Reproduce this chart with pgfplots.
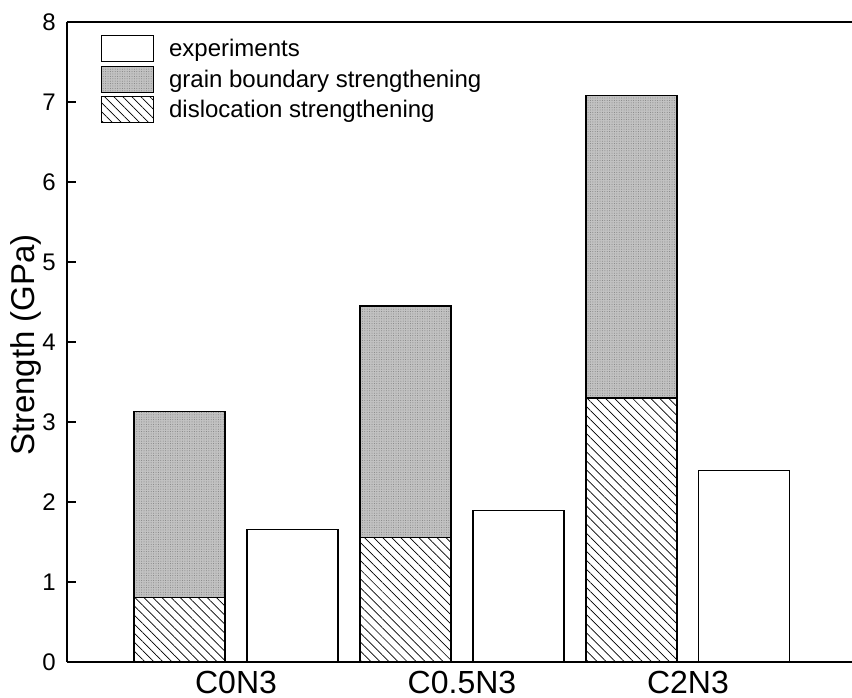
\documentclass[border=0pt]{standalone}
\usepackage{fontspec}
\setmainfont{Liberation Sans}
\usepackage{pgfplots}
\pgfplotsset{compat=1.18}
\usetikzlibrary{patterns,patterns.meta}

\tikzset{
  gbfill/.style={fill=black!24, postaction={pattern color=black!50, pattern={Dots[distance=2.4bp, radius=0.5bp]}}},
  hatchfill/.style={fill=white, postaction={pattern color=black, pattern={Lines[angle=-45, distance=6.4bp, line width=0.7bp]}}},
}

\begin{document}
\begin{tikzpicture}
% model (stacked) bars
\begin{axis}[
  at={(0,0)}, anchor=south west, scale only axis, width=785bp, height=640bp,
  xmin=-0.748, xmax=2.726, ymin=0, ymax=8,
  hide axis, ybar stacked, bar width=91bp,
]
\addplot[draw=black, line width=1.1bp, hatchfill] coordinates {(-0.25,0.81) (0.75,1.56) (1.75,3.30)};
\addplot[draw=black, line width=1.1bp, gbfill] coordinates {(-0.25,2.32) (0.75,2.89) (1.75,3.78)};
\end{axis}
% main axis with experiments
\begin{axis}[
  at={(0,0)}, anchor=south west, scale only axis, width=785bp, height=640bp,
  xmin=-0.748, xmax=2.726, ymin=0, ymax=8,
  axis lines*=left, axis line style={line width=1.6bp, black},
  ybar, bar width=91bp, bar shift=0pt,
  xtick={0,1,2}, xticklabels={C0N3,C0.5N3,C2N3},
  major x tick style={draw=none},
  ytick={0,1,...,8}, tick align=inside, major tick length=9bp,
  major y tick style={line width=1.2bp, black},
  /pgf/number format/assume math mode=true,
  yticklabel style={font=\fontsize{24bp}{28bp}\selectfont, anchor=east, inner sep=0pt, xshift=-11bp},
  xticklabel style={font=\fontsize{32bp}{36bp}\selectfont, anchor=north, inner sep=0pt, yshift=-9bp},
  ylabel={Strength (GPa)},
  every axis y label/.style={at={(axis description cs:0,0.5)}, xshift=-25bp, yshift=-3bp, rotate=90, anchor=south, inner sep=0pt, font=\fontsize{33bp}{37bp}\selectfont},
  legend style={at={(axis description cs:0,1)}, anchor=north west, xshift=34bp, yshift=-13bp,
    draw=none, fill=none, inner sep=0pt, outer sep=0pt, row sep=3.5bp,
    font=\fontsize{24bp}{27bp}\selectfont, nodes={inner sep=0pt},
    /tikz/every odd column/.append style={column sep=15bp}},
  legend cell align=left,
]
\addplot[forget plot, draw=black, fill=white, line width=1.1bp] coordinates {(0.25,1.66) (1.25,1.89) (2.25,2.39)};
\draw[line width=1.6bp] (rel axis cs:0,1) -- (rel axis cs:1,1);
\addlegendimage{legend image code/.code={\draw[fill=white, line width=1.1bp] (0bp,-13bp) rectangle (52bp,13bp);}}
\addlegendentry{experiments}
\addlegendimage{legend image code/.code={\draw[gbfill, line width=1.1bp] (0bp,-13bp) rectangle (52bp,13bp);}}
\addlegendentry{grain boundary strengthening}
\addlegendimage{legend image code/.code={\draw[hatchfill, line width=1.1bp] (0bp,-13bp) rectangle (52bp,13bp);}}
\addlegendentry{dislocation strengthening}
\end{axis}
\pgfresetboundingbox
\path[use as bounding box] (-67bp,-36bp) rectangle (785bp,662bp);
\end{tikzpicture}
\end{document}
